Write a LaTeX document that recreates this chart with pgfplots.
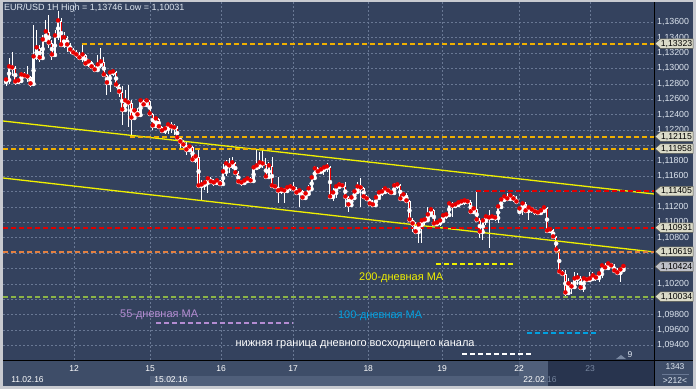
\documentclass[border=0pt]{standalone}
\usepackage{pgfplots}
\usepackage{pgfplotstable}
\pgfplotsset{compat=1.18}
\usepackage{fontspec}
\setmainfont{Liberation Sans}
\pgfdeclarelayer{bg}
\pgfsetlayers{bg,main}
\definecolor{bgc}{RGB}{52,66,94}
\definecolor{gridc}{RGB}{105,120,148}
\definecolor{framec}{RGB}{200,202,208}
\definecolor{tpanel}{RGB}{62,77,104}
\definecolor{tlight}{RGB}{80,95,122}
\definecolor{tdark}{RGB}{40,52,78}
\definecolor{gold}{RGB}{240,176,0}
\definecolor{orng}{RGB}{228,128,64}
\definecolor{redl}{RGB}{225,0,0}
\definecolor{grn}{RGB}{140,180,70}
\definecolor{yel}{RGB}{240,240,0}
\definecolor{purp}{RGB}{180,140,210}
\definecolor{cyanl}{RGB}{0,160,224}
\definecolor{candred}{RGB}{230,0,0}
\definecolor{labc}{RGB}{222,230,240}
\definecolor{tagf}{RGB}{218,218,200}
\definecolor{tagg}{RGB}{190,192,200}
\definecolor{tagb}{RGB}{90,90,80}
\definecolor{dimt}{RGB}{120,135,160}
\newcommand{\ptag}[3]{%
  \filldraw[fill=#3, draw=tagb, line width=0.5pt] ([xshift=1pt]#1) -- ++(5.5,4.8) -- ++(32.5,0) -- ++(0,-9.6) -- ++(-32.5,0) -- cycle;
  \node[font=\fontsize{8.7}{10}\selectfont, text=black, inner sep=0pt] at ([xshift=22.5pt]#1) {#2};}

\pgfplotstableread{
i o h l c
0 1.12824 1.12876 1.12772 1.12850
1 1.12850 1.13136 1.12798 1.13019
2 1.13019 1.13214 1.12902 1.13006
3 1.13006 1.13032 1.12785 1.12824
4 1.12824 1.12863 1.12798 1.12837
5 1.12837 1.12954 1.12824 1.12915
6 1.12915 1.12954 1.12876 1.12902
7 1.12902 1.13032 1.12824 1.12889
8 1.12889 1.12902 1.12759 1.12798
9 1.12798 1.13565 1.12772 1.13149
10 1.13149 1.13500 1.13110 1.13266
11 1.13266 1.13305 1.13084 1.13136
12 1.13136 1.13435 1.13110 1.13370
13 1.13370 1.13630 1.13344 1.13474
14 1.13474 1.13695 1.13266 1.13331
15 1.13331 1.13370 1.13110 1.13175
16 1.13175 1.13500 1.13149 1.13422
17 1.13422 1.13746 1.13370 1.13617
18 1.13617 1.13656 1.13279 1.13305
19 1.13305 1.13474 1.13266 1.13396
20 1.13396 1.13422 1.13214 1.13305
21 1.13305 1.13331 1.13188 1.13240
22 1.13240 1.13266 1.13175 1.13201
23 1.13201 1.13240 1.13136 1.13175
24 1.13175 1.13214 1.13110 1.13136
25 1.13136 1.13323 1.13084 1.13175
26 1.13175 1.13188 1.13032 1.13058
27 1.13058 1.13123 1.13019 1.13084
28 1.13084 1.13097 1.12993 1.13019
29 1.13019 1.13045 1.12954 1.12980
30 1.12980 1.13175 1.12954 1.13045
31 1.13045 1.13266 1.13006 1.13084
32 1.13084 1.13149 1.12889 1.12915
33 1.12915 1.12928 1.12655 1.12811
34 1.12811 1.12954 1.12694 1.12941
35 1.12941 1.12980 1.12902 1.12954
36 1.12954 1.12967 1.12746 1.12785
37 1.12785 1.12798 1.12629 1.12694
38 1.12694 1.12772 1.12265 1.12460
39 1.12460 1.12720 1.12434 1.12577
40 1.12577 1.12785 1.12239 1.12551
41 1.12551 1.12590 1.12115 1.12356
42 1.12356 1.12486 1.12330 1.12447
43 1.12447 1.12486 1.12369 1.12395
44 1.12395 1.12603 1.12382 1.12577
45 1.12577 1.12590 1.12499 1.12525
46 1.12525 1.12616 1.12512 1.12577
47 1.12577 1.12590 1.12382 1.12408
48 1.12408 1.12421 1.12200 1.12252
49 1.12252 1.12369 1.12226 1.12343
50 1.12343 1.12356 1.12213 1.12239
51 1.12239 1.12252 1.12161 1.12187
52 1.12187 1.12252 1.12148 1.12213
53 1.12213 1.12278 1.12148 1.12265
54 1.12265 1.12304 1.12161 1.12239
55 1.12239 1.12278 1.12135 1.12226
56 1.12226 1.12252 1.12070 1.12096
57 1.12096 1.12109 1.11940 1.12044
58 1.12044 1.12070 1.11966 1.12005
59 1.12005 1.12044 1.11875 1.11940
60 1.11940 1.12005 1.11914 1.11979
61 1.11979 1.11992 1.11797 1.11810
62 1.11810 1.11875 1.11771 1.11849
63 1.11849 1.11966 1.11446 1.11472
64 1.11472 1.11550 1.11290 1.11485
65 1.11485 1.11550 1.11420 1.11511
66 1.11511 1.11602 1.11381 1.11563
67 1.11563 1.11589 1.11498 1.11524
68 1.11524 1.11563 1.11472 1.11511
69 1.11511 1.11563 1.11485 1.11537
70 1.11537 1.11550 1.11472 1.11498
71 1.11498 1.11758 1.11485 1.11654
72 1.11654 1.11810 1.11602 1.11758
73 1.11758 1.11836 1.11641 1.11732
74 1.11732 1.11849 1.11693 1.11771
75 1.11771 1.11784 1.11615 1.11641
76 1.11641 1.11667 1.11498 1.11524
77 1.11524 1.11550 1.11472 1.11511
78 1.11511 1.11563 1.11498 1.11537
79 1.11537 1.11589 1.11511 1.11563
80 1.11563 1.11589 1.11511 1.11537
81 1.11537 1.11745 1.11524 1.11706
82 1.11706 1.11940 1.11680 1.11732
83 1.11732 1.11914 1.11693 1.11771
84 1.11771 1.11940 1.11706 1.11758
85 1.11758 1.11836 1.11563 1.11589
86 1.11589 1.11784 1.11576 1.11732
87 1.11732 1.11849 1.11446 1.11472
88 1.11472 1.11485 1.11433 1.11459
89 1.11459 1.11589 1.11251 1.11407
90 1.11407 1.11446 1.11368 1.11420
91 1.11420 1.11446 1.11251 1.11407
92 1.11407 1.11472 1.11381 1.11446
93 1.11446 1.11498 1.11407 1.11459
94 1.11459 1.11524 1.11407 1.11433
95 1.11433 1.11459 1.11355 1.11381
96 1.11381 1.11433 1.11199 1.11407
97 1.11407 1.11420 1.11290 1.11316
98 1.11316 1.11394 1.11290 1.11368
99 1.11368 1.11485 1.11342 1.11433
100 1.11433 1.11589 1.11420 1.11576
101 1.11576 1.11732 1.11563 1.11693
102 1.11693 1.11719 1.11628 1.11654
103 1.11654 1.11719 1.11641 1.11680
104 1.11680 1.11732 1.11615 1.11706
105 1.11706 1.11771 1.11654 1.11719
106 1.11719 1.11732 1.11303 1.11329
107 1.11329 1.11446 1.11277 1.11381
108 1.11381 1.11485 1.11316 1.11459
109 1.11459 1.11524 1.11433 1.11485
110 1.11485 1.11511 1.11446 1.11472
111 1.11472 1.11524 1.11199 1.11329
112 1.11329 1.11342 1.11134 1.11225
113 1.11225 1.11342 1.11212 1.11316
114 1.11316 1.11420 1.11303 1.11394
115 1.11394 1.11524 1.11381 1.11459
116 1.11459 1.11576 1.11199 1.11446
117 1.11446 1.11459 1.11303 1.11329
118 1.11329 1.11355 1.11277 1.11303
119 1.11303 1.11316 1.11212 1.11238
120 1.11238 1.11290 1.11199 1.11225
121 1.11225 1.11342 1.11199 1.11316
122 1.11316 1.11407 1.11303 1.11381
123 1.11381 1.11446 1.11342 1.11394
124 1.11394 1.11459 1.11368 1.11433
125 1.11433 1.11446 1.11368 1.11407
126 1.11407 1.11420 1.11355 1.11381
127 1.11381 1.11511 1.11368 1.11472
128 1.11472 1.11511 1.11433 1.11485
129 1.11485 1.11498 1.11290 1.11303
130 1.11303 1.11381 1.11277 1.11355
131 1.11355 1.11381 1.11251 1.11277
132 1.11277 1.11290 1.11004 1.11030
133 1.11030 1.11056 1.10874 1.10978
134 1.10978 1.11004 1.10848 1.10874
135 1.10874 1.10991 1.10731 1.10965
136 1.10965 1.11043 1.10731 1.11017
137 1.11017 1.11056 1.10952 1.11030
138 1.11030 1.11199 1.11017 1.11095
139 1.11095 1.11186 1.11082 1.11160
140 1.11160 1.11173 1.10952 1.10978
141 1.10978 1.11004 1.10952 1.10991
142 1.10991 1.11043 1.10952 1.11017
143 1.11017 1.11108 1.10991 1.11082
144 1.11082 1.11108 1.11043 1.11095
145 1.11095 1.11264 1.11069 1.11238
146 1.11238 1.11264 1.11069 1.11212
147 1.11212 1.11251 1.11186 1.11225
148 1.11225 1.11277 1.11212 1.11251
149 1.11251 1.11277 1.11225 1.11264
150 1.11264 1.11290 1.11225 1.11277
151 1.11277 1.11303 1.11238 1.11264
152 1.11264 1.11290 1.11121 1.11134
153 1.11134 1.11199 1.11108 1.11173
154 1.11173 1.11405 1.11017 1.11030
155 1.11030 1.11056 1.10796 1.10874
156 1.10874 1.11043 1.10770 1.11017
157 1.11017 1.11095 1.10965 1.11069
158 1.11069 1.11160 1.10666 1.11056
159 1.11056 1.11095 1.11030 1.11069
160 1.11069 1.11095 1.11017 1.11056
161 1.11056 1.11225 1.10991 1.11199
162 1.11199 1.11316 1.11173 1.11290
163 1.11290 1.11355 1.11264 1.11329
164 1.11329 1.11381 1.11290 1.11303
165 1.11303 1.11381 1.11290 1.11342
166 1.11342 1.11355 1.11264 1.11303
167 1.11303 1.11342 1.11238 1.11264
168 1.11134 1.11199 1.11121 1.11173
169 1.11173 1.11264 1.11095 1.11238
170 1.11238 1.11264 1.11121 1.11147
171 1.11147 1.11212 1.11030 1.11186
172 1.11186 1.11199 1.11121 1.11160
173 1.11160 1.11173 1.11095 1.11134
174 1.11134 1.11160 1.11108 1.11121
175 1.11121 1.11173 1.11095 1.11147
176 1.11147 1.11199 1.11121 1.11186
177 1.11186 1.11199 1.10861 1.10887
178 1.10887 1.10926 1.10861 1.10900
179 1.10900 1.10913 1.10796 1.10809
180 1.10809 1.10822 1.10614 1.10640
181 1.10640 1.10653 1.10328 1.10354
182 1.10354 1.10380 1.10302 1.10328
183 1.10328 1.10380 1.10031 1.10081
184 1.10081 1.10276 1.10055 1.10198
185 1.10198 1.10224 1.10068 1.10159
186 1.10159 1.10354 1.10133 1.10263
187 1.10263 1.10341 1.10185 1.10276
188 1.10276 1.10302 1.10120 1.10146
189 1.10146 1.10289 1.10094 1.10263
190 1.10263 1.10289 1.10237 1.10250
191 1.10250 1.10354 1.10237 1.10263
192 1.10263 1.10354 1.10237 1.10302
193 1.10302 1.10315 1.10237 1.10276
194 1.10276 1.10341 1.10224 1.10328
195 1.10328 1.10458 1.10276 1.10432
196 1.10432 1.10471 1.10393 1.10406
197 1.10406 1.10484 1.10393 1.10458
198 1.10458 1.10471 1.10406 1.10432
199 1.10432 1.10458 1.10341 1.10367
200 1.10367 1.10406 1.10328 1.10341
201 1.10341 1.10419 1.10224 1.10380
202 1.10380 1.10458 1.10367 1.10424
}\candles

\begin{document}
\begin{tikzpicture}
\begin{axis}[
  scale only axis, width=651pt, height=358pt,
  xmin=-1, xmax=212, ymin=1.0921, ymax=1.13864,
  axis line style={draw=none},
  major tick length=0pt,
  grid=major,
  major grid style={draw=gridc, dash pattern=on 2pt off 2pt, line width=0.6pt},
  xtick={22.25,47.1,70.4,93.9,118.5,142.7,167.9,191.1},
  xticklabels={12,15,16,17,18,19,22,\textcolor{dimt}{23}},
  xticklabel style={font=\fontsize{8.5}{10}\selectfont, text=white, anchor=base, yshift=-11pt, inner sep=0pt},
  ytick={1.094,1.096,1.098,1.102,1.108,1.110,1.112,1.116,1.118,1.122,1.124,1.126,1.128,1.130,1.132,1.134,1.136},
  extra y ticks={1.100,1.104,1.106,1.114,1.120},
  extra y tick labels={},
  extra y tick style={grid=major, major tick length=0pt},
  yticklabel pos=right,
  scaled y ticks=false,
  yticklabel style={font=\fontsize{8.8}{10}\selectfont, text=labc, anchor=west, inner sep=0pt, xshift=3pt,
    /pgf/number format/.cd, fixed, fixed zerofill, precision=5, use comma, 1000 sep={}, assume math mode=true},
]
% wicks (centred on the body, so nothing shows at the ends)
\addplot[white, only marks, mark=none, forget plot,
  error bars/.cd, y dir=both, y explicit, error mark=none,
  error bar style={white, line width=0.9pt}]
  table[x=i, y expr={(\thisrow{o}+\thisrow{c})/2},
        y error plus expr={\thisrow{h}-(\thisrow{o}+\thisrow{c})/2},
        y error minus expr={(\thisrow{o}+\thisrow{c})/2-\thisrow{l}}] {\candles};
% bodies
\addplot[white, only marks, mark=none, forget plot,
  error bars/.cd, y dir=plus, y explicit, error mark=none,
  error bar style={white, line width=2.3pt}]
  table[x=i, y expr={min(\thisrow{o},\thisrow{c})}, y error plus expr={max(abs(\thisrow{c}-\thisrow{o}),0.00008)}] {\candles};
% red inner of bearish bodies
\addplot[candred, only marks, mark=none, forget plot,
  error bars/.cd, y dir=plus, y explicit, error mark=none,
  error bar style={candred, line width=0.9pt}]
  table[x=i, y expr={\thisrow{c}+0.00008}, y error plus expr={max(\thisrow{o}-\thisrow{c}-0.00016,0)}] {\candles};
% channel lines
\addplot[yel, line width=1.3pt] coordinates {(-1,1.12317) (212,1.11368)};
\addplot[yel, line width=1.3pt] coordinates {(-1,1.11576) (212,1.10614)};
% horizontal levels
\addplot[gold, line width=2pt, dash pattern=on 5pt off 3pt] coordinates {(24.9,1.13323) (212,1.13323)};
\addplot[gold, line width=2pt, dash pattern=on 5pt off 3pt] coordinates {(40.6,1.12115) (212,1.12115)};
\addplot[gold, line width=2pt, dash pattern=on 5pt off 3pt] coordinates {(-1,1.11958) (212,1.11958)};
\addplot[redl, line width=2pt, dash pattern=on 5pt off 3pt] coordinates {(153.8,1.11405) (212,1.11405)};
\addplot[redl, line width=2pt, dash pattern=on 5pt off 3pt] coordinates {(-1,1.10931) (212,1.10931)};
\addplot[orng, line width=2pt, dash pattern=on 5pt off 3pt] coordinates {(-1,1.10619) (212,1.10619)};
\addplot[grn, line width=2pt, dash pattern=on 5pt off 3pt] coordinates {(-1,1.10034) (212,1.10034)};
\addplot[yel, line width=2pt, dash pattern=on 5pt off 3pt] coordinates {(140.7,1.10458) (165.9,1.10458)};
\addplot[purp, line width=2pt, dash pattern=on 5pt off 3pt] coordinates {(49.1,1.09691) (93.9,1.09691)};
\addplot[cyanl, line width=2pt, dash pattern=on 5pt off 3pt] coordinates {(170.5,1.09561) (193.1,1.09561)};
\addplot[white, line width=2pt, dash pattern=on 5pt off 3pt] coordinates {(149.2,1.09288) (172.1,1.09288)};
% labels
\node[font=\fontsize{11}{12}\selectfont, text=purp] at (axis cs:50.1,1.09795) {55-дневная MA};
\node[font=\fontsize{11}{12}\selectfont, text=cyanl] at (axis cs:122.4,1.09782) {100-дневная MA};
\node[font=\fontsize{11}{12}\selectfont, text=yel] at (axis cs:129.3,1.10276) {200-дневная MA};
\node[font=\fontsize{11}{12}\selectfont, text=white] at (axis cs:114.2,1.09405) {нижняя граница дневного восходящего канала};
\coordinate (SW) at (rel axis cs:0,0);
\coordinate (T1) at (axis cs:212,1.13323);
\coordinate (T2) at (axis cs:212,1.12115);
\coordinate (T3) at (axis cs:212,1.11958);
\coordinate (T4) at (axis cs:212,1.11405);
\coordinate (T5) at (axis cs:212,1.10931);
\coordinate (T6) at (axis cs:212,1.10619);
\coordinate (T7) at (axis cs:212,1.10424);
\coordinate (T8) at (axis cs:212,1.10034);
\end{axis}
\begin{scope}[shift={(SW)}, xshift=-3pt, yshift=-29pt, x=1pt, y=1pt]
\begin{pgfonlayer}{bg}
\fill[framec] (0,0) rectangle (696,389);
\fill[bgc] (3,29) rectangle (693,387);
\fill[tpanel] (3,3) rectangle (693,28.5);
\fill[tlight] (150,3) rectangle (519,13);
\fill[tlight] (519,3) rectangle (548,28.5);
\fill[tdark] (548,3) rectangle (654,28.5);
\end{pgfonlayer}
\draw[black, line width=1pt] (654.5,3) -- (654.5,387);
\draw[black, line width=1pt] (3,28.5) -- (693,28.5);
\ptag{T1}{1,13323}{tagf}
\ptag{T2}{1,12115}{tagf}
\ptag{T3}{1,11958}{tagf}
\ptag{T4}{1,11405}{tagf}
\ptag{T5}{1,10931}{tagf}
\ptag{T6}{1,10619}{tagf}
\ptag{T7}{1,10424}{tagg}
\ptag{T8}{1,10034}{tagf}
\node[anchor=west, font=\fontsize{9}{10}\selectfont, text=labc, inner sep=0pt] at (4,381) {EUR/USD 1H High = 1,13746 Low = 1,10031};
\node[font=\fontsize{8.5}{10}\selectfont, text=white] at (27.5,9) {11.02.16};
\node[font=\fontsize{8.5}{10}\selectfont, text=white] at (171,9) {15.02.16};
\node[font=\fontsize{8.5}{10}\selectfont] at (540,9) {\textcolor{white}{22.02}\textcolor{dimt}{.16}};
\node[font=\fontsize{8.5}{10}\selectfont, text=labc] at (675,22) {1343};
\draw[gridc, line width=0.6pt] (662,15) -- (689,15);
\node[font=\fontsize{8.5}{10}\selectfont, text=labc] at (675,8) {>212<};
\fill[dimt] (616,30) -- (626,30) -- (621,34) -- cycle;
\node[font=\fontsize{8.5}{10}\selectfont, text=labc] at (630,34) {9};
\end{scope}
\end{tikzpicture}
\end{document}
